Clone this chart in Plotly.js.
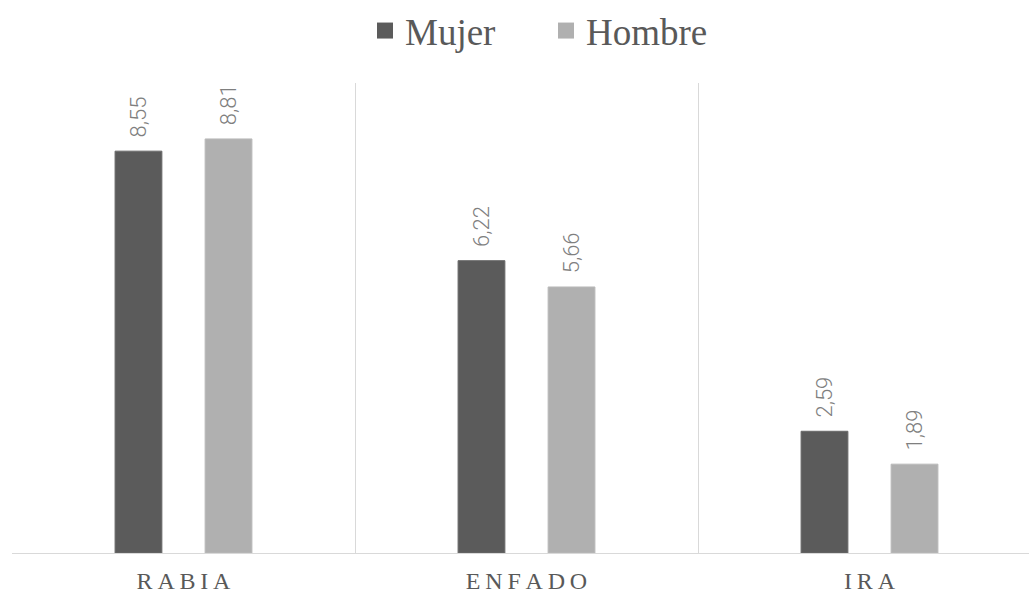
<!DOCTYPE html>
<html>
<head>
<meta charset="utf-8">
<script src="https://cdn.plot.ly/plotly-3.0.1.min.js"></script>
<style>html,body{margin:0;padding:0;background:#fff;}#chart{width:1029px;height:593px;}</style>
</head>
<body>
<div id="chart"></div>
<script>
const categories = ["R\u2009A\u2009B\u2009I\u2009A", "E\u2009N\u2009F\u2009A\u2009D\u2009O", "I\u2009R\u2009A"];
const seriesNames = ["Mujer", "Hombre"];
const mujer = [8.55, 6.22, 2.59];
const hombre = [8.81, 5.66, 1.89];
const colors = ['#5b5b5b', '#b0b0b0'];
const fmt = v => '\u00a0\u00a0' + v.toFixed(2).replace('.', ',');

const common = {
  type: 'bar',
  x: categories,
  textposition: 'outside',
  textangle: -90,
  cliponaxis: false,
  constraintext: 'none',
  textfont: {family: 'Roboto', size: 22, color: '#7f7f7f', weight: 300},
  hoverinfo: 'none',
  showlegend: false
};
const data = [
  Object.assign({}, common, {name: seriesNames[0], y: mujer, text: mujer.map(fmt), marker: {color: colors[0], line: {color: '#6a6a6a', width: 1}}}),
  Object.assign({}, common, {name: seriesNames[1], y: hombre, text: hombre.map(fmt), marker: {color: colors[1], line: {color: '#bababa', width: 1}}}),
  // legend-only entries (square swatches)
  {type: 'scatter', mode: 'markers', x: [null], y: [null], name: seriesNames[0], marker: {symbol: 'square', size: 16, color: colors[0]}, hoverinfo: 'none'},
  {type: 'scatter', mode: 'markers', x: [null], y: [null], name: seriesNames[1], marker: {symbol: 'square', size: 16, color: colors[1]}, hoverinfo: 'none'}
];
const layout = {
  width: 1029, height: 593,
  margin: {l: 12, r: 0, t: 83, b: 40},
  paper_bgcolor: '#fff', plot_bgcolor: '#fff',
  barmode: 'group',
  bargap: 0.475,
  bargroupgap: 0.48,
  showlegend: true,
  legend: {
    orientation: 'h', xref: 'container', x: 0.3547, xanchor: 'left', y: 1.0, yref: 'container', yanchor: 'top',
    font: {family: 'Liberation Serif', size: 37, color: '#595959'},
    itemwidth: 30, traceorder: 'normal', entrywidth: 136
  },
  xaxis: {
    type: 'category',
    range: [-0.5, 2.465],
    tickson: 'boundaries',
    showgrid: true, gridcolor: '#d9d9d9', gridwidth: 1,
    showline: true, linecolor: '#d9d9d9', linewidth: 1,
    ticks: '', ticklen: 0,
    ticklabelstandoff: 6,
    tickfont: {family: 'Liberation Serif', size: 24, color: '#595959'},
    fixedrange: true
  },
  yaxis: {
    range: [0, 10],
    showgrid: false, zeroline: false, showline: false,
    showticklabels: false, ticks: '',
    fixedrange: true
  }
};
Plotly.newPlot('chart', data, layout, {displayModeBar: false, staticPlot: true});
</script>
</body>
</html>
